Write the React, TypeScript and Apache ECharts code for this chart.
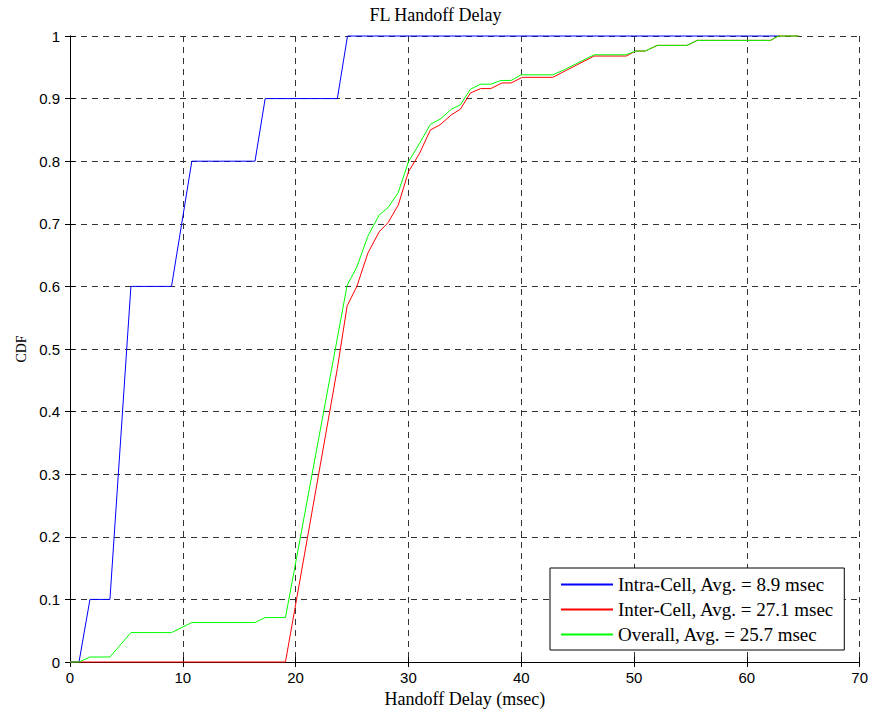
import React, { useEffect, useRef } from "react";
import * as echarts from "echarts";

const xTicks = [0, 10, 20, 30, 40, 50, 60, 70];
const yTicks = [0, 0.1, 0.2, 0.3, 0.4, 0.5, 0.6, 0.7, 0.8, 0.9, 1];

const intraX = [0, 0.8, 1.77, 3.54, 5.4, 9.0, 10.8, 16.4, 17.3, 23.7, 24.6, 62.8];
const intraY = [0, 0, 0.1, 0.1, 0.6, 0.6, 0.8, 0.8, 0.9, 0.9, 1, 1];

const interX = [0, 19.1, 23.7, 24.57, 25.43, 26.4, 27.4, 28.2, 29.1, 30.0, 31.0, 31.95, 32.8, 33.8, 34.6, 35.5, 36.4, 37.3, 38.3, 39.1, 40.1, 42.8, 46.46, 49.3, 50.15, 51.0, 52.06, 54.7, 55.6, 62.1, 62.8, 64.6];
const interY = [0, 0, 0.469, 0.569, 0.6, 0.653, 0.687, 0.702, 0.73, 0.783, 0.813, 0.85, 0.858, 0.874, 0.883, 0.909, 0.916, 0.916, 0.925, 0.925, 0.934, 0.934, 0.968, 0.968, 0.976, 0.976, 0.985, 0.985, 0.993, 0.993, 1.0, 1.0];

const overallX = [0, 0.8, 1.77, 3.54, 5.4, 9.0, 10.8, 16.4, 17.3, 19.1, 24.57, 25.43, 26.4, 27.4, 28.2, 29.1, 30.0, 31.0, 31.95, 32.8, 33.8, 34.6, 35.5, 36.4, 37.3, 38.2, 39.1, 40.0, 42.8, 43.8, 46.46, 49.3, 50.15, 51.0, 52.06, 54.7, 55.6, 62.1, 62.8, 64.6];
const overallY = [0, 0, 0.008, 0.008, 0.047, 0.047, 0.063, 0.063, 0.071, 0.071, 0.602, 0.631, 0.68, 0.714, 0.726, 0.75, 0.799, 0.829, 0.859, 0.867, 0.883, 0.89, 0.915, 0.923, 0.923, 0.929, 0.929, 0.938, 0.938, 0.946, 0.97, 0.97, 0.976, 0.976, 0.985, 0.985, 0.993, 0.993, 1.0, 1.0];

const seriesNames = [
  "Intra-Cell, Avg. = 8.9 msec",
  "Inter-Cell, Avg. = 27.1 msec",
  "Overall, Avg. = 25.7 msec",
];
const seriesColors = ["#0000ff", "#ff0000", "#00ff00"];

const SERIF = "'Liberation Serif', 'Times New Roman', serif";
const SANS = "'Liberation Sans', Arial, sans-serif";

function pairs(xs: number[], ys: number[]) {
  return xs.map((x, i) => [x, ys[i]]);
}

export default function App() {
  const ref = useRef<HTMLDivElement>(null);
  useEffect(() => {
    if (!ref.current) return;
    const chart = echarts.init(ref.current, undefined, { renderer: "svg" });
    const xMin = xTicks[0];
    const xMax = xTicks[xTicks.length - 1];
    const xInt = xTicks[1] - xTicks[0];
    const yMin = yTicks[0];
    const yMax = yTicks[yTicks.length - 1];
    const yInt = 0.1;
    const axisLine = { show: true, lineStyle: { color: "#000", width: 1 } };
    const tick = { show: true, inside: true, length: 5, lineStyle: { color: "#000" } };
    const grid = {
      show: true,
      type: [6, 5] as any,
      color: "#333",
      width: 1,
    };
    const data = [pairs(intraX, intraY), pairs(interX, interY), pairs(overallX, overallY)];
    chart.setOption({
      animation: false,
      backgroundColor: "#fff",
      title: {
        text: "FL Handoff Delay",
        left: "center",
        top: 1,
        textStyle: { fontFamily: SERIF, fontSize: 18, fontWeight: "normal", color: "#000" },
      },
      grid: { left: 70, right: 10, top: 36, bottom: 51, containLabel: false },
      legend: {
        orient: "vertical",
        left: 550,
        top: 568,
        icon: "rect",
        itemWidth: 52,
        itemHeight: 2,
        itemGap: 6,
        padding: [7, 10, 6, 11],
        backgroundColor: "#fff",
        borderColor: "#000",
        borderWidth: 1,
        borderRadius: 0,
        textStyle: { fontFamily: SERIF, fontSize: 19, color: "#000", lineHeight: 19 },
        data: seriesNames,
      },
      xAxis: [
        {
          type: "value",
          min: xMin,
          max: xMax,
          interval: xInt,
          position: "bottom",
          name: "Handoff Delay (msec)",
          nameLocation: "middle",
          nameGap: 27,
          nameTextStyle: { fontFamily: SERIF, fontSize: 18, color: "#000" },
          axisLine,
          axisTick: tick,
          axisLabel: { fontFamily: SANS, fontSize: 15, color: "#000", margin: 8 },
          splitLine: { lineStyle: grid },
        },
        {
          type: "value",
          min: xMin,
          max: xMax,
          interval: xInt,
          position: "top",
          axisLine,
          axisTick: tick,
          axisLabel: { show: false },
          splitLine: { show: false },
        },
      ],
      yAxis: [
        {
          type: "value",
          min: yMin,
          max: yMax,
          interval: yInt,
          position: "left",
          name: "CDF",
          nameLocation: "middle",
          nameGap: 42,
          nameTextStyle: { fontFamily: SERIF, fontSize: 14, color: "#000" },
          axisLine,
          axisTick: tick,
          axisLabel: {
            fontFamily: SANS,
            fontSize: 15,
            color: "#000",
            margin: 10,
            formatter: (v: number) => String(+v.toFixed(1)),
          },
          splitLine: { lineStyle: grid },
        },
        {
          type: "value",
          min: yMin,
          max: yMax,
          interval: yInt,
          position: "right",
          axisLine,
          axisTick: tick,
          axisLabel: { show: false },
          splitLine: { show: false },
        },
      ],
      series: seriesNames.map((name, i) => ({
        name,
        type: "line",
        xAxisIndex: 0,
        yAxisIndex: 0,
        data: data[i],
        showSymbol: false,
        symbol: "none",
        clip: false,
        color: seriesColors[i],
        lineStyle: { color: seriesColors[i], width: 1 },
        itemStyle: { color: seriesColors[i] },
      })),
    });
    return () => chart.dispose();
  }, []);
  return <div ref={ref} style={{ width: 871, height: 713, position: "absolute", left: 0, top: 0 }} />;
}
